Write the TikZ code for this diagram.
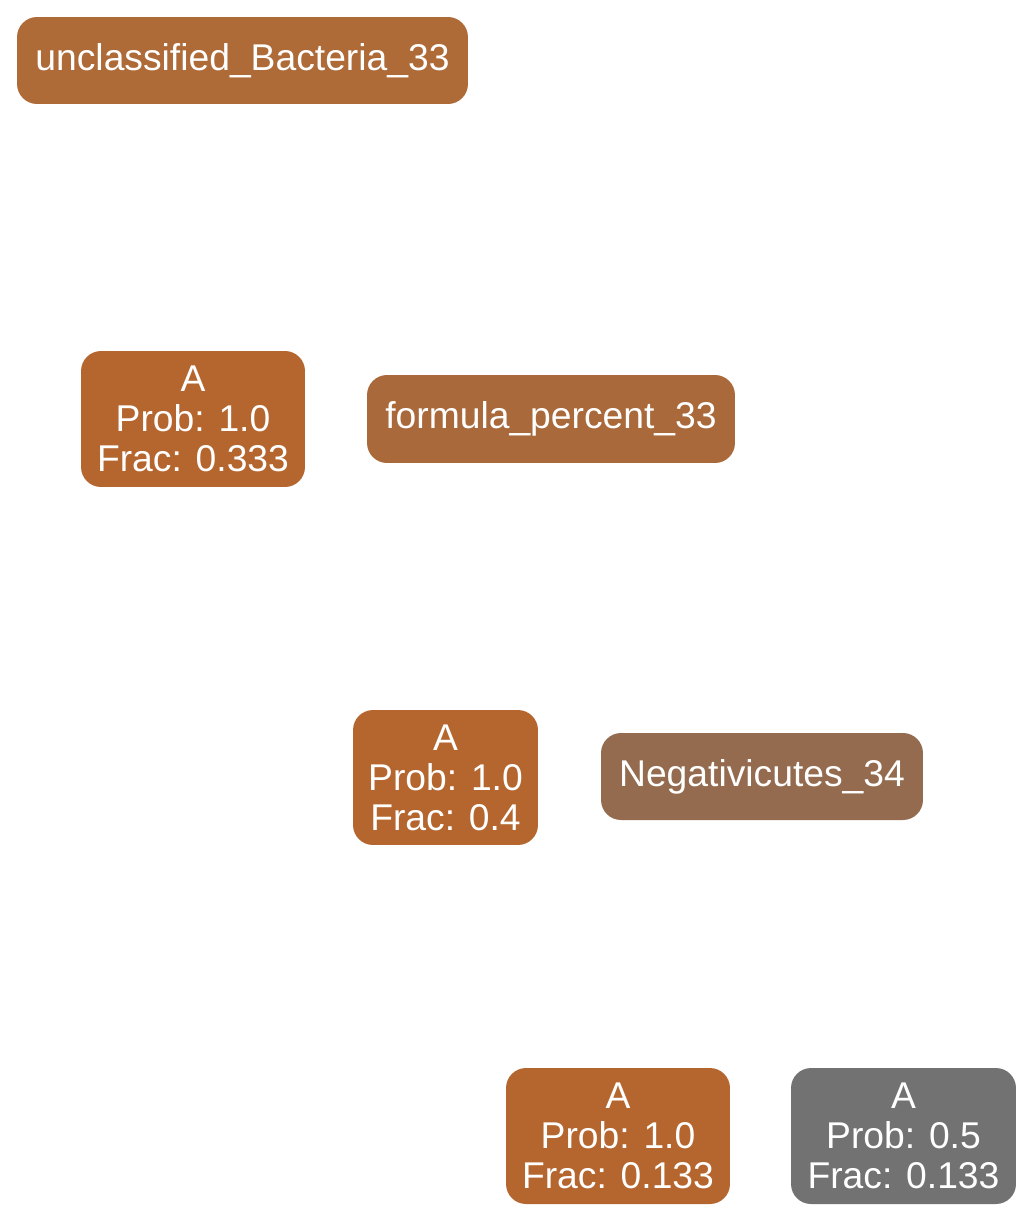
\documentclass[tikz,border=0pt]{standalone}
\usepackage{fontspec}
\setsansfont{Liberation Sans}
\definecolor{taxbrown}{HTML}{AE6A37}
\definecolor{formbrown}{HTML}{A9693A}
\definecolor{classbrown}{HTML}{946B4E}
\definecolor{hitorange}{HTML}{B5662F}
\definecolor{hitgrey}{HTML}{727272}
\begin{document}
\begin{tikzpicture}[x=0.02cm, y=-0.02cm, font=\sffamily\fontsize{21.2}{22.8}\selectfont, every node/.style={text=white, align=center, inner sep=0pt, rounded corners=0.4cm}, line join=miter]
	
	\useasboundingbox (0, 0) rectangle (1033, 1221);
	% Ebene 1
	\node[fill=taxbrown, minimum width=9.02cm, minimum height=1.74cm] (bact) at (242.5, 60.5) {unclassified\_Bacteria\_33};
	% Ebene 2
	\node[fill=hitorange, minimum width=4.48cm, minimum height=2.72cm] (hitA) at (193, 419) {A\\Prob: 1.0\\Frac: 0.333};
	\node[fill=formbrown, minimum width=7.36cm, minimum height=1.76cm] (form) at (551, 419) {formula\_percent\_33};
	% Ebene 3
	\node[fill=hitorange, minimum width=3.7cm, minimum height=2.7cm] (hitB) at (445.5, 777.5) {A\\Prob: 1.0\\Frac: 0.4};
	\node[fill=classbrown, minimum width=6.44cm, minimum height=1.74cm] (negat) at (762, 776.5) {Negativicutes\_34};
	% Ebene 4
	\node[fill=hitorange, minimum width=4.48cm, minimum height=2.72cm] (hitC) at (618, 1136) {A\\Prob: 1.0\\Frac: 0.133};
	\node[fill=hitgrey, minimum width=4.5cm, minimum height=2.72cm] (hitD) at (903.5, 1136) {A\\Prob: 0.5\\Frac: 0.133};
\end{tikzpicture}
\end{document}
